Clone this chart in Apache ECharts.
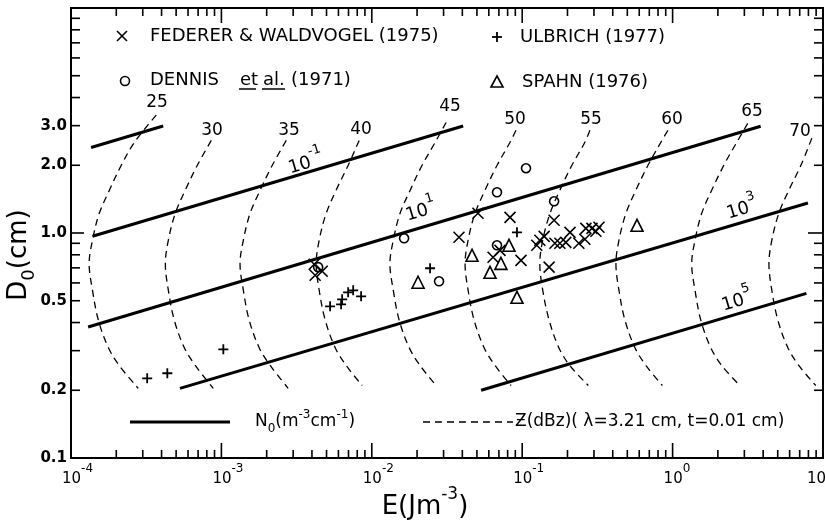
<!DOCTYPE html>
<html><head><meta charset="utf-8">
<script src="https://cdn.jsdelivr.net/npm/echarts@6/dist/echarts.min.js"></script>
<style>html,body{margin:0;padding:0;background:#fff}#c{width:825px;height:520px}</style>
</head><body><div id="c"></div>
<script>
// ---------------- DATA (E in J m^-3, D0 in cm) ----------------
const federer = [[0.00414,0.726],[0.00468,0.676],[0.00420,0.649],
  [0.0380,0.957],[0.0508,1.224],[0.0640,0.780],[0.0712,0.837],[0.0830,1.174],[0.0982,0.756],
  [0.125,0.882],[0.131,0.928],[0.140,0.966],[0.151,0.705],[0.163,1.139],[0.165,0.900],[0.178,0.900],
  [0.195,0.909],[0.208,1.007],[0.238,0.900],[0.261,0.938],[0.265,1.049],[0.291,1.049],[0.309,1.018],[0.324,1.060]];
const dennis = [[0.00440,0.705],[0.0164,0.947],[0.0280,0.610],[0.0680,1.517],[0.106,1.94],[0.163,1.383],[0.0680,0.882]];
const spahn = [[0.0203,0.604],[0.0464,0.796],[0.0611,0.669],[0.0722,0.733],[0.0817,0.882],[0.0923,0.518],[0.580,1.082]];
const ulbrich = [[3.21e-4,0.226],[4.37e-4,0.238],[1.03e-3,0.304],[5.28e-3,0.472],[6.25e-3,0.482],[6.35e-3,0.507],
  [6.96e-3,0.545],[7.52e-3,0.556],[8.49e-3,0.523],[0.0244,0.697],[0.0923,1.007]];

// N0 lines (solid)
const n0LineA = [[1.36e-4,2.40],[4.1e-4,2.99]];
const n0LineB = [[1.39e-4,0.967],[0.0405,2.99]];
const n0LineC = [[1.30e-4,0.382],[3.85,2.98]];
const n0LineD = [[5.3e-4,0.204],[7.94,1.36]];
const n0LineE = [[0.0533,0.200],[7.76,0.539]];
const n0Labels = ['-1','1','3','5'];

// Z contours (dashed), dBZ
const z25 = [[3.69e-4,3.34],[2.64e-4,2.53],[2.16e-4,2.00],[1.80e-4,1.55],[1.54e-4,1.22],[1.39e-4,0.93],[1.32e-4,0.73],[1.39e-4,0.556],[1.52e-4,0.41],[1.77e-4,0.31],[2.09e-4,0.258],[2.80e-4,0.204]];
const z30 = [[8.57e-4,2.58],[6.92e-4,2.00],[5.75e-4,1.55],[4.93e-4,1.22],[4.44e-4,0.93],[4.24e-4,0.73],[4.44e-4,0.556],[4.86e-4,0.41],[5.66e-4,0.31],[6.70e-4,0.258],[8.83e-4,0.204]];
const z35 = [[2.70e-3,2.58],[2.18e-3,2.00],[1.81e-3,1.55],[1.55e-3,1.22],[1.40e-3,0.93],[1.33e-3,0.73],[1.40e-3,0.556],[1.53e-3,0.41],[1.78e-3,0.31],[2.11e-3,0.258],[2.78e-3,0.204]];
const z40 = [[8.24e-3,2.58],[6.97e-3,2.00],[5.79e-3,1.55],[4.97e-3,1.22],[4.47e-3,0.93],[4.27e-3,0.73],[4.47e-3,0.556],[4.90e-3,0.41],[5.70e-3,0.31],[6.75e-3,0.258],[8.63e-3,0.21]];
const z45 = [[3.12e-2,3.10],[2.64e-2,2.53],[2.16e-2,2.00],[1.80e-2,1.55],[1.54e-2,1.22],[1.39e-2,0.93],[1.32e-2,0.73],[1.39e-2,0.556],[1.52e-2,0.41],[1.77e-2,0.31],[2.09e-2,0.258],[2.68e-2,0.21]];
const z50 = [[9.10e-2,2.86],[8.30e-2,2.53],[6.81e-2,2.00],[5.66e-2,1.55],[4.85e-2,1.22],[4.37e-2,0.93],[4.17e-2,0.73],[4.37e-2,0.556],[4.79e-2,0.41],[5.57e-2,0.31],[6.59e-2,0.258],[8.43e-2,0.21]];
const z55 = [[0.282,2.86],[0.261,2.53],[0.214,2.00],[0.178,1.55],[0.153,1.22],[0.137,0.93],[0.131,0.73],[0.137,0.556],[0.151,0.41],[0.175,0.31],[0.207,0.258],[0.275,0.21]];
const z60 = [[0.93,2.86],[0.836,2.53],[0.686,2.00],[0.570,1.55],[0.489,1.22],[0.440,0.93],[0.420,0.73],[0.440,0.556],[0.482,0.41],[0.561,0.31],[0.664,0.258],[0.855,0.21]];
const z65 = [[3.16,3.07],[2.67,2.53],[2.19,2.00],[1.82,1.55],[1.56,1.22],[1.41,0.93],[1.34,0.73],[1.41,0.556],[1.54,0.41],[1.79,0.31],[2.12,0.258],[2.80,0.21]];
const z70 = [[8.43,2.64],[7.13,2.00],[5.93,1.55],[5.08,1.22],[4.57,0.93],[4.37,0.73],[4.57,0.556],[5.01,0.41],[5.83,0.31],[6.90,0.258],[8.95,0.21]];
const zLabels = ['25','30','35','40','45','50','55','60','65','70'];

// axis ticks / labels
const xMajorTicks = [1e-4,1e-3,1e-2,1e-1,1,10];
const yLabelTicks = [0.1,0.2,0.5,1.0,2.0,3.0];
const yTickLabels = ['0.1','0.2','0.5','1.0','2.0','3.0'];

// ---------------- CHART ----------------
const FONT = '"DejaVu Sans", sans-serif';
const X_MIN = 1e-4, X_MAX = 10, Y_MIN = 0.1, Y_MAX = 10;

const xMinorTicks = [], yMinorTicks = [];
for (let d = -4; d < 1; d++) for (let k = 2; k <= 9; k++) xMinorTicks.push(k * Math.pow(10, d));
for (let d = -1; d < 1; d++) for (let k = 2; k <= 9; k++) yMinorTicks.push(k * Math.pow(10, d));
const yDecades = [0.1, 1, 10];

function xTickSeries(vals, len) {
  return { type:'custom', silent:true, z:6, clip:false,
    data: vals.map(v => [v, 1]),
    renderItem: (p, api) => {
      const v = api.value(0);
      const b = api.coord([v, Y_MIN]), t = api.coord([v, Y_MAX]);
      const st = {stroke:'#000', lineWidth:1.6};
      return {type:'group', children:[
        {type:'line', shape:{x1:b[0], y1:b[1], x2:b[0], y2:b[1]-len}, style:st},
        {type:'line', shape:{x1:t[0], y1:t[1], x2:t[0], y2:t[1]+len}, style:st}]};
    }};
}
function yTickSeries(vals, lenL, lenR) {
  return { type:'custom', silent:true, z:6, clip:false,
    data: vals.map(v => [1e-3, v]),
    renderItem: (p, api) => {
      const v = api.value(1);
      const l = api.coord([X_MIN, v]), r = api.coord([X_MAX, v]);
      const st = {stroke:'#000', lineWidth:1.6};
      return {type:'group', children:[
        {type:'line', shape:{x1:l[0], y1:l[1], x2:l[0]+lenL, y2:l[1]}, style:st},
        {type:'line', shape:{x1:r[0], y1:r[1], x2:r[0]-lenR, y2:r[1]}, style:st}]};
    }};
}

function lineS(d, w, dash, smooth) {
  return { type:'line', data:d, symbol:'none', silent:true, z:2, smooth: smooth || false,
    lineStyle:{color:'#000', width:w, type: dash ? [7,5] : 'solid', cap:'butt'} };
}
function scat(d, sym, size, bw) {
  return { type:'scatter', data:d, symbol:sym, symbolSize:size, z:4, silent:true,
    itemStyle:{color:'rgba(0,0,0,0)', borderColor:'#000', borderWidth:bw, opacity:1} };
}

const series = [
  xTickSeries(xMajorTicks, 15), xTickSeries(xMinorTicks, 8),
  yTickSeries(yDecades, 13, 15), yTickSeries(yMinorTicks, 9, 9),
  { type:'custom', silent:true, z:6, clip:false, data: xMajorTicks.map(v => [v, 1]),
    renderItem: (p, api) => {
      const v = api.value(0); const b = api.coord([v, Y_MIN]);
      const e = Math.round(Math.log10(v));
      return {type:'text', x: Math.min(b[0]-9, 807), y: b[1]+5, style:{
        text:'{b|10}{s|' + (e < 0 ? '-' + (-e) : e) + '}', align:'left', verticalAlign:'top', fill:'#000',
        font:'15px ' + FONT, fontSize:15, fontFamily:FONT,
        rich:{ b:{fontSize:15, fontFamily:FONT, lineHeight:24, verticalAlign:'bottom'},
               s:{fontSize:12, fontFamily:FONT, lineHeight:12, verticalAlign:'top'} } }};
    }},
  { type:'custom', silent:true, z:6, clip:false, data: yLabelTicks.map(v => [1e-3, v]),
    renderItem: (p, api) => {
      const v = api.value(1); const l = api.coord([X_MIN, v]);
      return {type:'text', x: l[0]-4, y: l[1], style:{ text: yTickLabels[p.dataIndex], align:'right',
        verticalAlign:'middle', fill:'#000', font:'bold 15px ' + FONT }};
    }},
  lineS(n0LineA, 3), lineS(n0LineB, 3), lineS(n0LineC, 3), lineS(n0LineD, 3), lineS(n0LineE, 3)
];
[z25,z30,z35,z40,z45,z50,z55,z60,z65,z70].forEach(d => series.push(lineS(d, 1.3, true, 0.35)));
series.push(scat(federer, 'path://M0,0L10,10M10,0L0,10', 11, 1.6));
series.push(scat(ulbrich, 'path://M5,0L5,10M0,5L10,5', 10, 1.8));
series.push(scat(dennis, 'circle', 9, 1.6));
series.push(scat(spahn, 'triangle', 12, 1.6));

// annotations & legend
function txt(x, y, text, size, extra) {
  const style = {text: text, fill:'#000', font: size + 'px ' + FONT, verticalAlign:'middle', align:'left'};
  if (extra) Object.assign(style, extra);
  return {type:'text', x: x, y: y, z:10, silent:true, style: style};
}
function supRich(bs, ss) {
  return { b:{fontSize:bs, fontFamily:FONT, lineHeight:bs+8, verticalAlign:'bottom'},
           s:{fontSize:ss, fontFamily:FONT, lineHeight:ss, verticalAlign:'top'} };
}
const ROT = 16.5 * Math.PI / 180;
const zLabelPos = [[157,103],[212,131],[289,131],[361,130],[450,107],[515,120],[591,120],[672,120],[752,112],[800,132]];
const n0LabelPos = [[305,160],[420,208],[741,206],[736,298]];
function L(x1,y1,x2,y2,w,dash) {
  return {type:'line', z:10, silent:true, shape:{x1:x1,y1:y1,x2:x2,y2:y2},
    style:{stroke:'#000', lineWidth:w, lineDash: dash || null}};
}

const graphic = [
  L(117,31,127,41,1.6), L(127,31,117,41,1.6),
  txt(150, 36, 'FEDERER & WALDVOGEL (1975)', 18),
  L(497,32,497,42,1.8), L(492,37,502,37,1.8),
  txt(520, 37, 'ULBRICH (1977)', 18),
  {type:'circle', z:10, shape:{cx:125, cy:81, r:4.5}, style:{fill:null, stroke:'#000', lineWidth:1.6}},
  txt(150, 80, 'DENNIS', 18, {font:'18px ' + FONT}), txt(240, 80, 'et', 18), txt(263, 80, 'al.', 18), txt(291, 80, '(1971)', 18),
  L(239,89,256,89,1.5), L(262,89,285,89,1.5),
  {type:'polygon', z:10, shape:{points:[[497,76],[503,87],[491,87]]}, style:{fill:null, stroke:'#000', lineWidth:1.6}},
  txt(522, 82, 'SPAHN (1976)', 18),
  L(130,422,230,422,3),
  txt(255, 422, '{b|N}{u|0}{b|(m}{s|-3}{b|cm}{s|-1}{b|)}', 17, {rich:{
     b:{fontSize:17, fontFamily:FONT, lineHeight:26, verticalAlign:'middle'},
     u:{fontSize:12, fontFamily:FONT, lineHeight:12, verticalAlign:'bottom'},
     s:{fontSize:12, fontFamily:FONT, lineHeight:12, verticalAlign:'top'}}}),
  L(423,422,513,422,1.3,[7,5]),
  txt(515, 422, 'Ƶ(dBz)( λ=3.21 cm, t=0.01 cm)', 17),
  txt(425, 503, '{b|E(Jm}{s|-3}{b|)}', 26, {align:'center', rich:supRich(26, 17)}),
  {type:'text', x:22, y:255, z:10, rotation:Math.PI/2, silent:true, style:{text:'{b|D}{u|0}{b|(cm)}',
     align:'center', verticalAlign:'middle', fill:'#000', rich:{
     b:{fontSize:26, fontFamily:FONT, lineHeight:32, verticalAlign:'top'},
     u:{fontSize:18, fontFamily:FONT, lineHeight:18, verticalAlign:'bottom'}}}}
];
zLabels.forEach((t, i) => graphic.push(txt(zLabelPos[i][0], zLabelPos[i][1], t, 17, {align:'center'})));
n0Labels.forEach((t, i) => graphic.push({type:'text', x:n0LabelPos[i][0], y:n0LabelPos[i][1], rotation:ROT, z:10, silent:true,
  style:{text:'{b|10}{s|' + t + '}', align:'center', verticalAlign:'middle', fill:'#000', rich:supRich(18, 13)}}));

const chart = echarts.init(document.getElementById('c'));
chart.setOption({
  animation:false,
  backgroundColor:'#fff',
  grid:{left:71, right:2, top:8, bottom:62, show:true, borderColor:'#000', borderWidth:2, backgroundColor:'transparent'},
  xAxis:{type:'log', logBase:10, min:X_MIN, max:X_MAX, axisLine:{show:false}, axisTick:{show:false},
    axisLabel:{show:false}, splitLine:{show:false}},
  yAxis:{type:'log', logBase:10, min:Y_MIN, max:Y_MAX, axisLine:{show:false}, axisTick:{show:false},
    axisLabel:{show:false}, splitLine:{show:false}},
  series: series,
  graphic: graphic
});
</script></body></html>
